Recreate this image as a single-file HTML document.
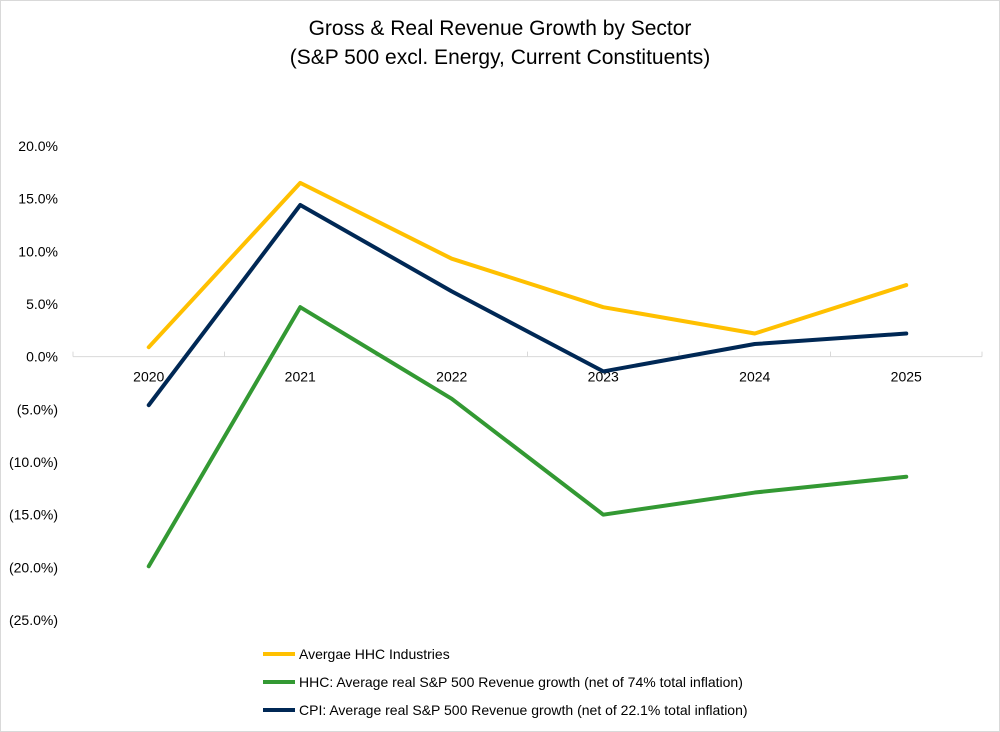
<!DOCTYPE html>
<html><head><meta charset="utf-8"><style>
body{margin:0;background:#fff;}
svg{display:block;font-family:"Liberation Sans",Calibri,sans-serif;}
</style></head><body>
<svg id="chart" width="1000" height="732" viewBox="0 0 1000 732">
<rect x="0.5" y="0.5" width="999" height="731" fill="#fff" stroke="#d9d9d9"/>
<text x="500" y="35" text-anchor="middle" font-size="21" fill="#000">Gross &amp; Real Revenue Growth by Sector</text>
<text x="500" y="64" text-anchor="middle" font-size="21" fill="#000">(S&amp;P 500 excl. Energy, Current Constituents)</text>
<g id="axes"></g>
<g id="series"></g>
<g id="legend"></g>
</svg>
<script>
const categories=['2020','2021','2022','2023','2024','2025'];
const hhcAvg=[0.9,16.5,9.3,4.7,2.2,6.8];
const hhcReal=[-19.9,4.7,-4.0,-15.0,-12.9,-11.4];
const cpiReal=[-4.6,14.4,6.2,-1.4,1.2,2.2];
const yTicks=[20,15,10,5,0,-5,-10,-15,-20,-25];
const yTickLabels=['20.0%','15.0%','10.0%','5.0%','0.0%','(5.0%)','(10.0%)','(15.0%)','(20.0%)','(25.0%)'];
const seriesNames=['Avergae HHC Industries','HHC: Average real S&P 500 Revenue growth (net of 74% total inflation)','CPI: Average real S&P 500 Revenue growth (net of 22.1% total inflation)'];

const NS='http://www.w3.org/2000/svg';
const x0=73,x1=982,yTop=146,yBot=620,vMax=20,vMin=-25;
const step=(x1-x0)/categories.length;
const xs=i=>x0+step*(i+0.5);
const ys=v=>yTop+(vMax-v)/(vMax-vMin)*(yBot-yTop);
function mk(t,a,p){const e=document.createElementNS(NS,t);for(const k in a)e.setAttribute(k,a[k]);p.appendChild(e);return e;}
const axes=document.getElementById('axes');
yTicks.forEach((v,i)=>{
  const t=mk('text',{x:58,y:ys(v)+5,'text-anchor':'end','font-size':14,fill:'#000'},axes);
  t.textContent=yTickLabels[i];
  
  
});
const zl=mk('line',{x1:x0,x2:x1,y1:ys(0),y2:ys(0),stroke:'#d9d9d9','stroke-width':1},axes);


for(let i=0;i<=categories.length;i++){
  const tk=mk('line',{x1:x0+step*i,x2:x0+step*i,y1:ys(0)-5,y2:ys(0),stroke:'#d9d9d9'},axes);
  
  
}
categories.forEach((c,i)=>{
  const t=mk('text',{x:xs(i),y:ys(0)+25,'text-anchor':'middle','font-size':14,fill:'#000'},axes);
  t.textContent=c;
  
  
});
const ser=document.getElementById('series');
const defs=[[hhcAvg,'#ffc000','line-hhc-average'],[hhcReal,'#339933','line-hhc-real'],[cpiReal,'#002855','line-cpi-real']];
defs.forEach(([d,col,name])=>{
  const p=mk('polyline',{points:d.map((v,i)=>xs(i)+','+ys(v)).join(' '),fill:'none',stroke:col,'stroke-width':4,'stroke-linejoin':'round','stroke-linecap':'round'},ser);
  
  
});
const lg=document.getElementById('legend');
const cols=['#ffc000','#339933','#002855'];
seriesNames.forEach((n,i)=>{
  const y=654+i*28;
  const l=mk('line',{x1:263,x2:295,y1:y,y2:y,stroke:cols[i],'stroke-width':4},lg);
  
  
  const t=mk('text',{x:299,y:y+5,'font-size':14,fill:'#000'},lg);
  t.textContent=n;
  
  
});
</script>
</body></html>
